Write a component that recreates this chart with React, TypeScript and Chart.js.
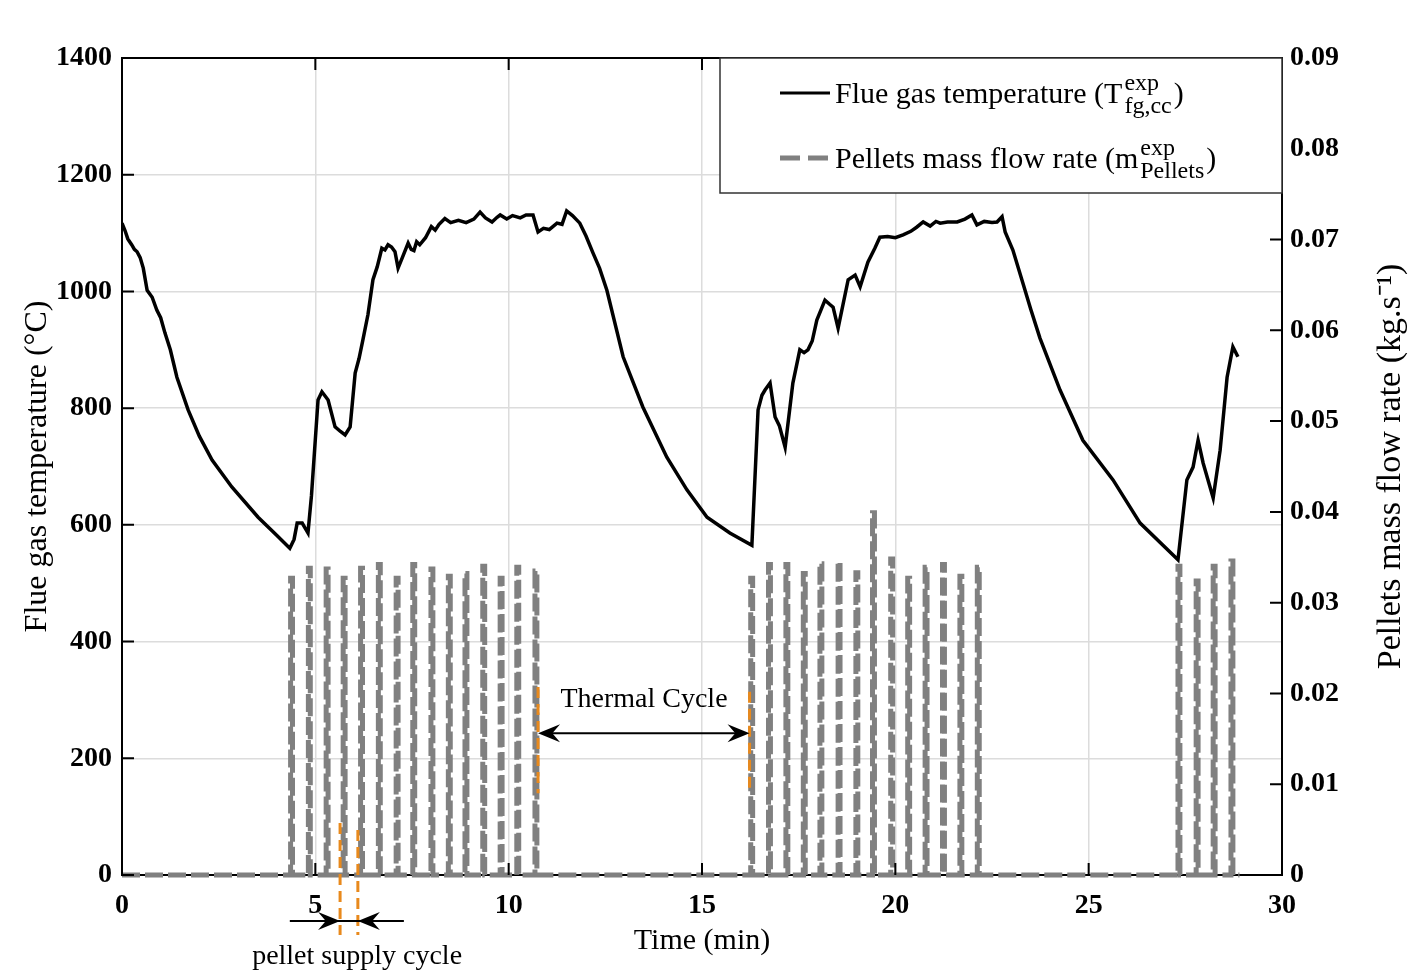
import React, { useEffect, useRef } from "react";
import { Chart, registerables } from "chart.js";

Chart.register(...registerables);

const SERIF = '"Liberation Serif", "Times New Roman", serif';

// Flue gas temperature (°C) vs time (min)
const timeMin = [
  0.0, 0.08, 0.15, 0.25, 0.32, 0.39, 0.47, 0.55, 0.65, 0.78, 0.9, 1.0, 1.11, 1.25, 1.42,
  1.71, 2.0, 2.33, 2.84, 3.52, 4.0, 4.34,
  4.45, 4.53, 4.66, 4.81, 4.9, 5.07, 5.17, 5.33, 5.51, 5.65, 5.77, 5.9, 6.03, 6.13, 6.23,
  6.36, 6.49, 6.6, 6.72, 6.8, 6.88, 6.97, 7.06, 7.14, 7.25, 7.4, 7.48, 7.55, 7.62, 7.7,
  7.85, 8.0, 8.1, 8.2, 8.35, 8.5, 8.7, 8.9, 9.1, 9.26, 9.4, 9.57, 9.7, 9.78, 9.95, 10.1,
  10.3, 10.45, 10.63, 10.76, 10.9, 11.05, 11.25, 11.38, 11.5, 11.65, 11.84, 12.0, 12.18,
  12.35, 12.54, 12.96, 13.47, 14.09, 14.61, 15.13, 15.72,
  16.29, 16.45, 16.55, 16.63, 16.76, 16.89, 17.0, 17.15, 17.35, 17.53, 17.64, 17.74, 17.85,
  17.97, 18.18, 18.3, 18.39, 18.52, 18.78, 18.96, 19.09, 19.29, 19.47, 19.6, 19.8, 20.0,
  20.2, 20.4, 20.55, 20.72, 20.9, 21.05, 21.16, 21.35, 21.6, 21.8, 21.98, 22.11, 22.3,
  22.5, 22.63, 22.76, 22.84, 23.04, 23.3, 23.5, 23.74, 24.26, 24.85, 25.63, 26.33, 27.31,
  27.54, 27.7, 27.83, 27.96, 28.22, 28.4, 28.58, 28.73, 28.86,
];
const tempC = [
  1117, 1104, 1090, 1080, 1072, 1068, 1058, 1040, 1002, 990, 968, 955, 929, 900, 853,
  797, 752, 711, 665, 613, 582, 560,
  575, 603, 603, 586, 650, 814, 828, 814, 768, 760, 754, 768, 860, 885, 917,
  960, 1020, 1042, 1074, 1071, 1080, 1076, 1068, 1040, 1058, 1083, 1072, 1070, 1085, 1080,
  1092, 1111, 1105, 1115, 1125, 1118, 1122, 1118, 1124, 1136, 1126, 1119, 1127, 1131, 1124, 1130,
  1126, 1131, 1131, 1102, 1108, 1106, 1117, 1115, 1138, 1130, 1117, 1095, 1066,
  1040, 1002, 888, 802, 716, 660, 613, 586,
  565, 797, 822, 831, 843, 785, 770, 733, 843, 900, 895, 900, 915,
  951, 985, 978, 973, 937, 1020, 1028, 1008, 1050, 1074, 1093, 1094, 1092,
  1097, 1103, 1110, 1119, 1112, 1120, 1117, 1119, 1119, 1124, 1131, 1114, 1120,
  1118, 1119, 1128, 1102, 1071, 1014, 970, 920, 831, 745, 677, 603, 540,
  677, 699, 745, 706, 646, 728, 853, 905, 888,
];

// Pellet feed pulses (kg/s)
const pulseTimes = [
  4.36, 4.82, 5.28, 5.72, 6.17, 6.63, 7.09, 7.52, 7.99, 8.44, 8.87, 9.33, 9.78, 10.21, 10.68,
  16.26, 16.72, 17.17, 17.62, 18.05, 18.52, 18.98, 19.41, 19.88, 20.32, 20.77, 21.22, 21.67, 22.12,
  27.31, 27.78, 28.22, 28.68,
];
const pulseHeights = [
  0.0327, 0.0338, 0.0337, 0.0327, 0.0338, 0.0342, 0.0327, 0.0342, 0.0337, 0.0329, 0.0332, 0.0340, 0.0327, 0.0339, 0.0335,
  0.0327, 0.0342, 0.0342, 0.0332, 0.0343, 0.0345, 0.0333, 0.0399, 0.0348, 0.0327, 0.0339, 0.0342, 0.0329, 0.0339,
  0.0340, 0.0324, 0.0340, 0.0346,
];
const pulseWidthMin = 0.05;
const pelletEndMin = 28.9;

// Axis ticks
const xTickStep = 5;
const xRange = [0, 30];
const tempRange = [0, 1400];
const tempStep = 200;
const flowRange = [0, 0.09];
const flowStep = 0.01;

// Annotations (time in min, height in °C on the left axis)
const supplyMarks = [5.64, 6.1];
const supplyMarkTops = [89, 77];
const supplyMarkBottom = -103;
const supplyArrowSpan = [4.34, 7.29];
const supplyArrowLevel = -79;
const supplyLabel = { text: "pellet supply cycle", t: 6.08, v: -140 };
const thermalMarks = [10.76, 16.23];
const thermalMarkTops = [322, 314];
const thermalMarkBottom = 140;
const thermalArrowLevel = 243;
const thermalLabel = { text: "Thermal Cycle", t: 13.5, v: 300 };

const legendItems = [
  { main: "Flue gas temperature (T", sup: "exp", sub: "fg,cc", tail: ")", color: "#000", dash: [] as number[] },
  { main: "Pellets mass flow rate (m", sup: "exp", sub: "Pellets", tail: ")", color: "#808080", dash: [20, 8] },
];

const ORANGE = "#E8891C";
const GRID = "#dcdcdc";

function arrowHead(ctx: CanvasRenderingContext2D, tipX: number, tipY: number, dir: number) {
  const len = 22;
  const half = 9;
  ctx.beginPath();
  ctx.moveTo(tipX, tipY);
  ctx.lineTo(tipX - dir * len, tipY - half);
  ctx.lineTo(tipX - dir * len * 0.65, tipY);
  ctx.lineTo(tipX - dir * len, tipY + half);
  ctx.closePath();
  ctx.fill();
}

function drawRich(ctx: CanvasRenderingContext2D, x: number, base: number, it: any, size: number) {
  ctx.font = `${size}px ${SERIF}`;
  ctx.fillText(it.main, x, base);
  let cx = x + ctx.measureText(it.main).width + 2;
  const small = Math.round(size * 0.8);
  ctx.font = `${small}px ${SERIF}`;
  ctx.fillText(it.sup, cx, base - size * 0.45);
  ctx.fillText(it.sub, cx, base + size * 0.32);
  cx += Math.max(ctx.measureText(it.sup).width, ctx.measureText(it.sub).width) + 2;
  ctx.font = `${size}px ${SERIF}`;
  ctx.fillText(it.tail, cx, base);
}

const overlayPlugin = {
  id: "overlay",
  afterDatasetsDraw(chart: any) {
    const { ctx, chartArea: a, scales } = chart;
    const xs = scales.x;
    const ys = scales.y;
    const y1 = scales.y1;
    ctx.save();
    // frame top
    ctx.strokeStyle = "#000";
    ctx.lineWidth = 2;
    ctx.beginPath();
    ctx.moveTo(a.left, a.top);
    ctx.lineTo(a.right, a.top);
    ctx.stroke();
    // inward ticks
    const tl = 12;
    ctx.beginPath();
    xs.ticks.forEach((t: any) => {
      const px = xs.getPixelForValue(t.value);
      ctx.moveTo(px, a.bottom);
      ctx.lineTo(px, a.bottom - tl);
      ctx.moveTo(px, a.top);
      ctx.lineTo(px, a.top + tl);
    });
    ys.ticks.forEach((t: any) => {
      const py = ys.getPixelForValue(t.value);
      ctx.moveTo(a.left, py);
      ctx.lineTo(a.left + tl, py);
    });
    y1.ticks.forEach((t: any) => {
      const py = y1.getPixelForValue(t.value);
      ctx.moveTo(a.right, py);
      ctx.lineTo(a.right - tl, py);
    });
    ctx.stroke();

    // orange markers
    ctx.strokeStyle = ORANGE;
    ctx.lineWidth = 3;
    ctx.setLineDash([11, 6]);
    ctx.beginPath();
    supplyMarks.forEach((t, i) => {
      const px = xs.getPixelForValue(t);
      ctx.moveTo(px, ys.getPixelForValue(supplyMarkTops[i]));
      ctx.lineTo(px, ys.getPixelForValue(supplyMarkBottom));
    });
    thermalMarks.forEach((t, i) => {
      const px = xs.getPixelForValue(t);
      ctx.moveTo(px, ys.getPixelForValue(thermalMarkTops[i]));
      ctx.lineTo(px, ys.getPixelForValue(thermalMarkBottom));
    });
    ctx.stroke();
    ctx.setLineDash([]);

    // arrows
    ctx.strokeStyle = "#000";
    ctx.fillStyle = "#000";
    ctx.lineWidth = 2;
    const ty = ys.getPixelForValue(thermalArrowLevel);
    const tx0 = xs.getPixelForValue(thermalMarks[0]);
    const tx1 = xs.getPixelForValue(thermalMarks[1]);
    ctx.beginPath();
    ctx.moveTo(tx0 + 5, ty);
    ctx.lineTo(tx1 - 5, ty);
    ctx.stroke();
    arrowHead(ctx, tx0, ty, -1);
    arrowHead(ctx, tx1, ty, 1);

    const sy = ys.getPixelForValue(supplyArrowLevel);
    const sx0 = xs.getPixelForValue(supplyArrowSpan[0]);
    const sx1 = xs.getPixelForValue(supplyArrowSpan[1]);
    ctx.beginPath();
    ctx.moveTo(sx0, sy);
    ctx.lineTo(sx1, sy);
    ctx.stroke();
    arrowHead(ctx, xs.getPixelForValue(supplyMarks[0]), sy, 1);
    arrowHead(ctx, xs.getPixelForValue(supplyMarks[1]), sy, -1);

    // labels
    ctx.textAlign = "center";
    ctx.textBaseline = "middle";
    ctx.font = `28px ${SERIF}`;
    ctx.fillText(thermalLabel.text, xs.getPixelForValue(thermalLabel.t), ys.getPixelForValue(thermalLabel.v));
    ctx.fillText(supplyLabel.text, xs.getPixelForValue(supplyLabel.t), ys.getPixelForValue(supplyLabel.v));

    // right axis title (reads bottom to top)
    ctx.save();
    ctx.translate(chart.width - 19, (a.top + a.bottom) / 2);
    ctx.rotate(-Math.PI / 2);
    ctx.font = `34px ${SERIF}`;
    ctx.fillText("Pellets mass flow rate (kg.s\u207B\u00B9)", 0, 0);
    ctx.restore();

    // legend
    const bw = 562;
    const bh = 135;
    const bx = a.right - bw;
    const by = a.top;
    ctx.fillStyle = "#fff";
    ctx.fillRect(bx, by, bw, bh);
    ctx.strokeStyle = "#333";
    ctx.lineWidth = 1.5;
    ctx.strokeRect(bx, by, bw, bh);
    ctx.textAlign = "left";
    ctx.textBaseline = "alphabetic";
    legendItems.forEach((it, i) => {
      const cy = by + 35 + i * 65;
      ctx.strokeStyle = it.color;
      ctx.lineWidth = it.dash.length ? 5 : 3;
      ctx.setLineDash(it.dash);
      ctx.beginPath();
      ctx.moveTo(bx + 60, cy);
      ctx.lineTo(bx + 110, cy);
      ctx.stroke();
      ctx.setLineDash([]);
      ctx.fillStyle = "#000";
      drawRich(ctx, bx + 115, cy + 10, it, 30);
    });
    ctx.restore();
  },
};

export default function App() {
  const ref = useRef<HTMLCanvasElement | null>(null);
  useEffect(() => {
    document.body.style.margin = "0";
    const canvas = ref.current;
    if (!canvas) return;
    const tempPts = timeMin.map((t, i) => ({ x: t, y: tempC[i] }));
    const pelletPts: { x: number; y: number }[] = [{ x: 0, y: 0 }];
    pulseTimes.forEach((t, i) => {
      pelletPts.push({ x: t, y: 0 });
      pelletPts.push({ x: t, y: pulseHeights[i] });
      pelletPts.push({ x: t + pulseWidthMin, y: pulseHeights[i] });
      pelletPts.push({ x: t + pulseWidthMin, y: 0 });
    });
    pelletPts.push({ x: pelletEndMin, y: 0 });

    const tickFont = { family: SERIF, size: 28, weight: "bold" as const };
    const chart = new Chart(canvas, {
      type: "line",
      data: {
        datasets: [
          {
            label: "Flue gas temperature",
            data: tempPts,
            yAxisID: "y",
            borderColor: "#000",
            borderWidth: 3.5,
            pointRadius: 0,
            tension: 0,
          },
          {
            label: "Pellets mass flow rate",
            data: pelletPts,
            yAxisID: "y1",
            borderColor: "#808080",
            borderWidth: 5,
            borderDash: [18, 5],
            pointRadius: 0,
            tension: 0,
            clip: false,
          },
        ],
      },
      options: {
        animation: false,
        responsive: false,
        maintainAspectRatio: false,
        layout: { padding: { top: 58, left: 0, right: 0, bottom: 0 } },
        plugins: { legend: { display: false }, tooltip: { enabled: false } },
        scales: {
          x: {
            type: "linear",
            min: xRange[0],
            max: xRange[1],
            ticks: { stepSize: xTickStep, color: "#000", font: tickFont, padding: 14, maxRotation: 0 },
            grid: { color: GRID, lineWidth: 1.5, drawTicks: false },
            border: { color: "#000", width: 2 },
            title: {
              display: true,
              text: "Time (min)",
              color: "#000",
              font: { family: SERIF, size: 30 },
              padding: { top: 0, bottom: 17 },
            },
            afterFit: (s: any) => {
              s.height = 101;
            },
          },
          y: {
            position: "left",
            min: tempRange[0],
            max: tempRange[1],
            ticks: {
              stepSize: tempStep,
              color: "#000",
              font: tickFont,
              padding: 10,
              callback: (v: any) => String(v),
            },
            grid: { color: GRID, lineWidth: 1.5, drawTicks: false },
            border: { color: "#000", width: 2 },
            title: {
              display: true,
              text: "Flue gas temperature (°C)",
              color: "#000",
              font: { family: SERIF, size: 32 },
              padding: { top: 18, bottom: 0 },
            },
            afterFit: (s: any) => {
              s.width = 122;
            },
          },
          y1: {
            position: "right",
            min: flowRange[0],
            max: flowRange[1],
            ticks: {
              stepSize: flowStep,
              color: "#000",
              font: tickFont,
              padding: 8,
              callback: (v: any) => (Math.abs(v) < 1e-9 ? "0" : Number(v).toFixed(2)),
            },
            grid: { display: false, drawTicks: false },
            border: { color: "#000", width: 2 },
            afterFit: (s: any) => {
              s.width = 128;
            },
          },
        },
      },
      plugins: [overlayPlugin],
    });
    return () => chart.destroy();
  }, []);
  return (
    <div style={{ width: 1410, height: 976, position: "relative", background: "#fff" }}>
      <canvas ref={ref} width={1410} height={976} style={{ display: "block" }} />
    </div>
  );
}
